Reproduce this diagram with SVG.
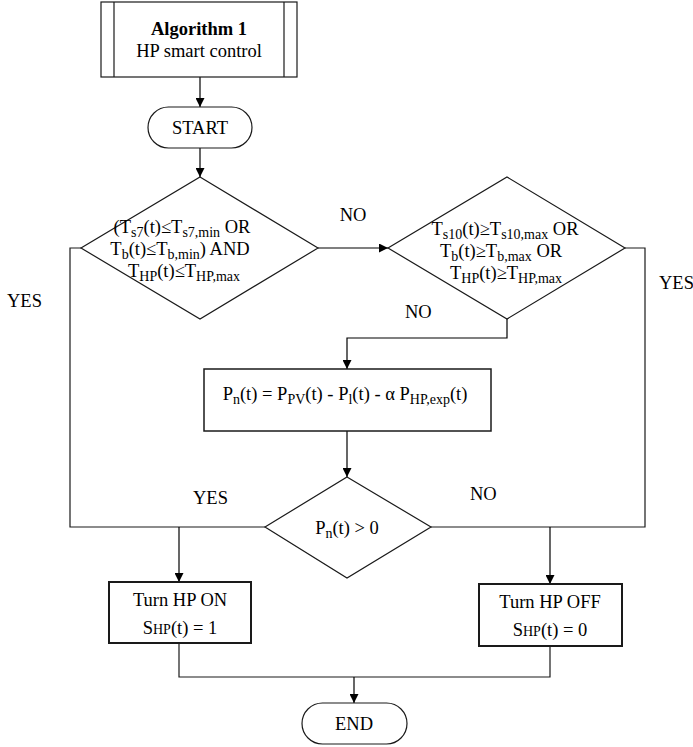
<svg xmlns="http://www.w3.org/2000/svg" width="693" height="747" viewBox="0 0 693 747">
  <defs>
    <marker id="arrow" viewBox="0 0 10 10" refX="10" refY="5" markerWidth="9" markerHeight="9" markerUnits="userSpaceOnUse" orient="auto">
      <path d="M0,0 L10,5 L0,10 z" fill="#000"/>
    </marker>
    <style>
      .shape { fill: #fff; stroke: #1a1a1a; stroke-width: 1.2; }
      .thick { fill: #fff; stroke: #1a1a1a; stroke-width: 2; }
      .line { fill: none; stroke: #1a1a1a; stroke-width: 1.2; }
      .arr { fill: none; stroke: #000; stroke-width: 1.2; marker-end: url(#arrow); }
      text { font-family: "Liberation Serif", "Times New Roman", serif; font-size: 18.5px; fill: #000; }
      .c { text-anchor: middle; }
      .b { font-weight: bold; }
      .s { font-size: 14px; }
    </style>
  </defs>

  <!-- connectors -->
  <g id="connectors">
    <line class="arr" x1="200" y1="77" x2="200" y2="107"/>
    <line class="arr" x1="200" y1="148" x2="200" y2="177"/>
    <line class="arr" x1="318" y1="248" x2="388" y2="248"/>
    <polyline class="arr" points="507,319 507,338 347,338 347,369"/>
    <line class="arr" x1="347" y1="431" x2="347" y2="477"/>
    <polyline class="line" points="81,248 70,248 70,527 265,527"/>
    <polyline class="line" points="625,248 645,248 645,527 431,527"/>
    <line class="arr" x1="179" y1="527" x2="179" y2="582"/>
    <line class="arr" x1="550" y1="527" x2="550" y2="584"/>
    <polyline class="line" points="179,643 179,677 550,677 550,646"/>
    <line class="arr" x1="354" y1="677" x2="354" y2="703"/>
    <text class="c" x="353" y="221">NO</text>
    <text x="7" y="307">YES</text>
    <text x="405" y="318">NO</text>
    <text x="659" y="289">YES</text>
    <text x="193" y="504">YES</text>
    <text x="470" y="500">NO</text>
  </g>

  <!-- title block -->
  <g id="algorithm">
    <rect class="shape" x="101" y="2" width="196" height="75"/>
    <line class="line" x1="114" y1="2" x2="114" y2="77"/>
    <line class="line" x1="284" y1="2" x2="284" y2="77"/>
    <text class="c b" x="199" y="35">Algorithm 1</text>
    <text class="c" x="199" y="57">HP smart control</text>
  </g>

  <g id="start">
    <rect class="shape" x="148" y="107" width="104" height="41" rx="20.5"/>
    <text class="c" x="200" y="134">START</text>
  </g>

  <g id="cond-low">
    <polygon class="shape" points="200,177 318,248 200,319 81,248"/>
    <text class="c" x="182" y="233">(T<tspan class="s" dy="4">s7</tspan><tspan dy="-4">(t)≤T</tspan><tspan class="s" dy="4">s7,min</tspan><tspan dy="-4"> OR</tspan></text>
    <text class="c" x="180" y="255">T<tspan class="s" dy="4">b</tspan><tspan dy="-4">(t)≤T</tspan><tspan class="s" dy="4">b,min</tspan><tspan dy="-4">) AND</tspan></text>
    <text class="c" x="184" y="277">T<tspan class="s" dy="4">HP</tspan><tspan dy="-4">(t)≤T</tspan><tspan class="s" dy="4">HP,max</tspan></text>
  </g>

  <g id="cond-high">
    <polygon class="shape" points="507,177 625,248 507,319 388,248"/>
    <text class="c" x="505" y="235">T<tspan class="s" dy="4">s10</tspan><tspan dy="-4">(t)≥T</tspan><tspan class="s" dy="4">s10,max</tspan><tspan dy="-4"> OR</tspan></text>
    <text class="c" x="501" y="257">T<tspan class="s" dy="4">b</tspan><tspan dy="-4">(t)≥T</tspan><tspan class="s" dy="4">b,max</tspan><tspan dy="-4"> OR</tspan></text>
    <text class="c" x="506" y="279">T<tspan class="s" dy="4">HP</tspan><tspan dy="-4">(t)≥T</tspan><tspan class="s" dy="4">HP,max</tspan></text>
  </g>

  <g id="net-power">
    <rect class="shape" x="204" y="369" width="287" height="62" style="stroke-width:1.5"/>
    <text class="c" x="345" y="400">P<tspan class="s" dy="4">n</tspan><tspan dy="-4">(t) = P</tspan><tspan class="s" dy="4">PV</tspan><tspan dy="-4">(t) - P</tspan><tspan class="s" dy="4">l</tspan><tspan dy="-4">(t) - α P</tspan><tspan class="s" dy="4">HP,exp</tspan><tspan dy="-4">(t)</tspan></text>
  </g>

  <g id="cond-surplus">
    <polygon class="shape" points="347,477 431,527 347,578 265,527"/>
    <text class="c" x="347" y="534">P<tspan class="s" dy="4">n</tspan><tspan dy="-4">(t) &gt; 0</tspan></text>
  </g>

  <g id="hp-on">
    <rect class="thick" x="109" y="582" width="142" height="61"/>
    <text class="c" x="180" y="606">Turn HP ON</text>
    <text class="c" x="180" y="634">S<tspan class="s">HP</tspan>(t) = 1</text>
  </g>

  <g id="hp-off">
    <rect class="thick" x="479" y="584" width="143" height="62"/>
    <text class="c" x="550" y="608">Turn HP OFF</text>
    <text class="c" x="550" y="636">S<tspan class="s">HP</tspan>(t) = 0</text>
  </g>

  <g id="end">
    <rect class="shape" x="302" y="703" width="105" height="41" rx="20.5"/>
    <text class="c" x="354" y="730">END</text>
  </g>
</svg>
